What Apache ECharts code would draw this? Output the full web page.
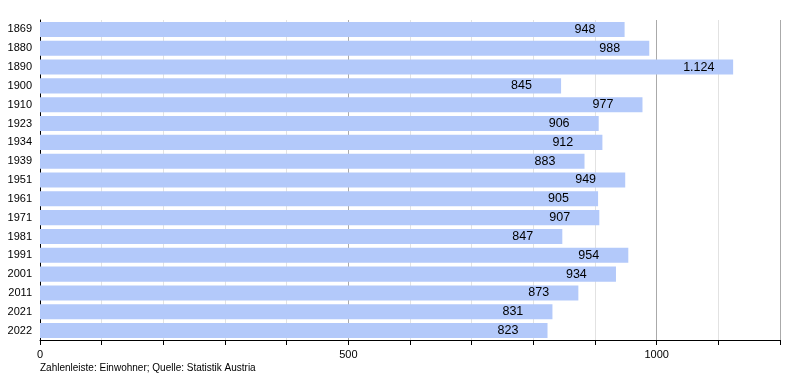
<!DOCTYPE html>
<html>
<head>
<meta charset="utf-8">
<script src="https://cdn.jsdelivr.net/npm/echarts@6/dist/echarts.min.js"></script>
<style>html,body{margin:0;padding:0;background:#fff}#c{width:800px;height:380px}</style>
</head>
<body>
<div id="c"></div>
<script>
const years = ["1869","1880","1890","1900","1910","1923","1934","1939","1951","1961","1971","1981","1991","2001","2011","2021","2022"];
const population = [948,988,1124,845,977,906,912,883,949,905,907,847,954,934,873,831,823];
const xTickLabels = {0:"0",500:"500",1000:"1000"};
const footer = "Zahlenleiste: Einwohner; Quelle: Statistik Austria";

const chart = echarts.init(document.getElementById('c'), null, {renderer:'canvas'});
const font = 'Liberation Sans, Arial, sans-serif';
chart.setOption({
  animation:false,
  textStyle:{fontFamily:font},
  grid:{left:40,right:20,top:20,bottom:40,containLabel:false},
  xAxis:[{
    type:'value',min:0,max:1200,interval:100,
    axisLine:{show:true,lineStyle:{color:'#000',width:1}},
    axisTick:{show:true,length:5,inside:false,lineStyle:{color:'#000'}},
    axisLabel:{color:'#000',fontSize:11,margin:9,formatter:v=>xTickLabels[v]!==undefined?xTickLabels[v]:''},
    splitLine:{show:true,lineStyle:{color:'#e2e2e2',width:1}}
  },{
    type:'value',min:0,max:1200,interval:500,position:'bottom',
    axisLine:{show:false},axisTick:{show:false},axisLabel:{show:false},
    splitLine:{show:true,lineStyle:{color:'#aaaaaa',width:1}}
  }],
  yAxis:{
    type:'category',data:years,inverse:true,
    axisLine:{show:true,lineStyle:{color:'#000',width:1}},
    axisTick:{show:false},
    axisLabel:{color:'#000',fontSize:11,margin:8},
    splitLine:{show:false}
  },
  series:[{
    type:'bar',data:population,barCategoryGap:'20%',
    itemStyle:{color:'#b3c9fa'},
    label:{show:true,position:'insideRight',distance:50,align:'left',
      color:'#000',fontSize:12.5,fontFamily:font,
      formatter:p=>p.value>=1000?Math.floor(p.value/1000)+'.'+String(p.value%1000).padStart(3,'0'):String(p.value)}
  }],
  graphic:[{type:'text',left:40,top:363,style:{text:footer,fill:'#000',font:'10px '+font}}]
});
</script>
</body>
</html>
